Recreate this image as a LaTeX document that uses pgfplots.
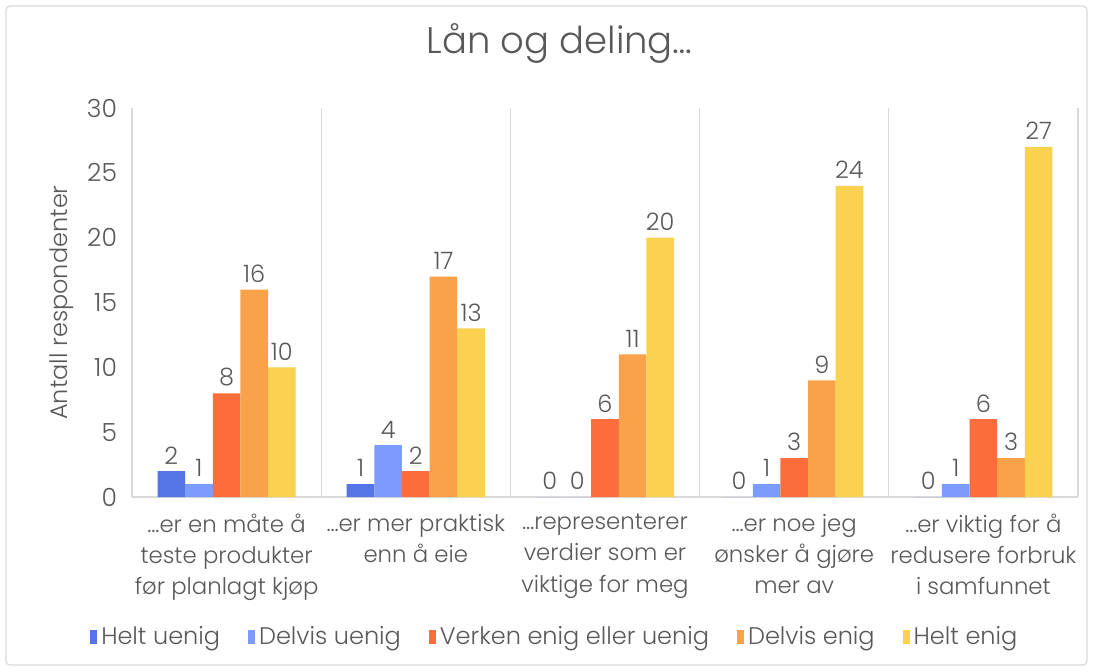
\documentclass[border=0pt]{standalone}
\usepackage{fontspec}
\setmainfont{Poppins}[UprightFont=* Light]
\usepackage{pgfplots}
\pgfplotsset{compat=1.18}
\definecolor{c1}{HTML}{5574E6}
\definecolor{c2}{HTML}{7B9BFF}
\definecolor{c3}{HTML}{FB6E3C}
\definecolor{c4}{HTML}{F9A24A}
\definecolor{c5}{HTML}{FBD150}
\definecolor{txt}{HTML}{595959}
\definecolor{grd}{HTML}{D9D9D9}
\begin{document}
\begin{tikzpicture}
\useasboundingbox (-66pt,-87pt) rectangle (481pt,248.5pt);
\fill[white] (-66pt,-87pt) rectangle (481pt,248.5pt);
\draw[grd, line width=0.6pt, rounded corners=2pt] (-63pt,-84pt) rectangle (477.5pt,245.5pt);
\begin{axis}[
  at={(0,0)}, anchor=south west,
  scale only axis, width=473pt, height=194.5pt,
  ybar=0pt, bar width=0.146,
  xmin=-0.5, xmax=4.5, ymin=0, ymax=30,
  ytick={0,5,...,30},
  xtick={0,...,4},
  xticklabels={{…er en måte å\\teste produkter\\før planlagt kjøp},
               {…er mer praktisk\\enn å eie},
               {…representerer\\verdier som er\\viktige for meg},
               {…er noe jeg\\ønsker å gjøre\\mer av},
               {…er viktig for å\\redusere forbruk\\i samfunnet}},
  minor xtick={-0.5,0.5,...,4.5},
  xminorgrids, minor grid style={grd, line width=0.6pt},
  extra y ticks={0}, extra y tick labels={}, extra y tick style={grid=major, major grid style={grd, line width=0.6pt}},
  major tick length=0pt, minor tick length=0pt,
  axis line style={draw=none},
  /pgf/number format/assume math mode=true,
  ticklabel style={font=\fontsize{12.5}{14}\selectfont, text=txt},
  xticklabel style={align=center, font=\fontsize{11.4}{15.6}\selectfont, yshift=-5pt},
  yticklabel style={xshift=-4pt},
  ylabel={Antall respondenter},
  ylabel style={at={(axis description cs:-0.074,0.5)}, anchor=center, font=\fontsize{12}{14}\selectfont, text=txt},
  title={Lån og deling…},
  title style={at={(axis description cs:0.452,1.136)}, anchor=center, font=\fontsize{18.5}{22}\selectfont, text=txt},
  nodes near coords,
  every node near coord/.append style={font=\fontsize{12}{14}\selectfont, text=txt, /pgf/number format/assume math mode=true},
  legend columns=5,
  legend style={at={(0.448,-0.36)}, anchor=center, draw=none, font=\fontsize{12}{14}\selectfont, text=txt, /tikz/every even column/.append style={column sep=12pt}},
  legend image code/.code={\fill[#1] (0pt,-3.4pt) rectangle (3.5pt,3.3pt);},
]
\addplot[fill=c1, draw=none] coordinates {(0,2) (1,1) (2,0) (3,0) (4,0)};
\addplot[fill=c2, draw=none] coordinates {(0,1) (1,4) (2,0) (3,1) (4,1)};
\addplot[fill=c3, draw=none] coordinates {(0,8) (1,2) (2,6) (3,3) (4,6)};
\addplot[fill=c4, draw=none] coordinates {(0,16) (1,17) (2,11) (3,9) (4,3)};
\addplot[fill=c5, draw=none] coordinates {(0,10) (1,13) (2,20) (3,24) (4,27)};
\legend{Helt uenig, Delvis uenig, Verken enig eller uenig, Delvis enig, Helt enig}
\end{axis}
\end{tikzpicture}
\end{document}
